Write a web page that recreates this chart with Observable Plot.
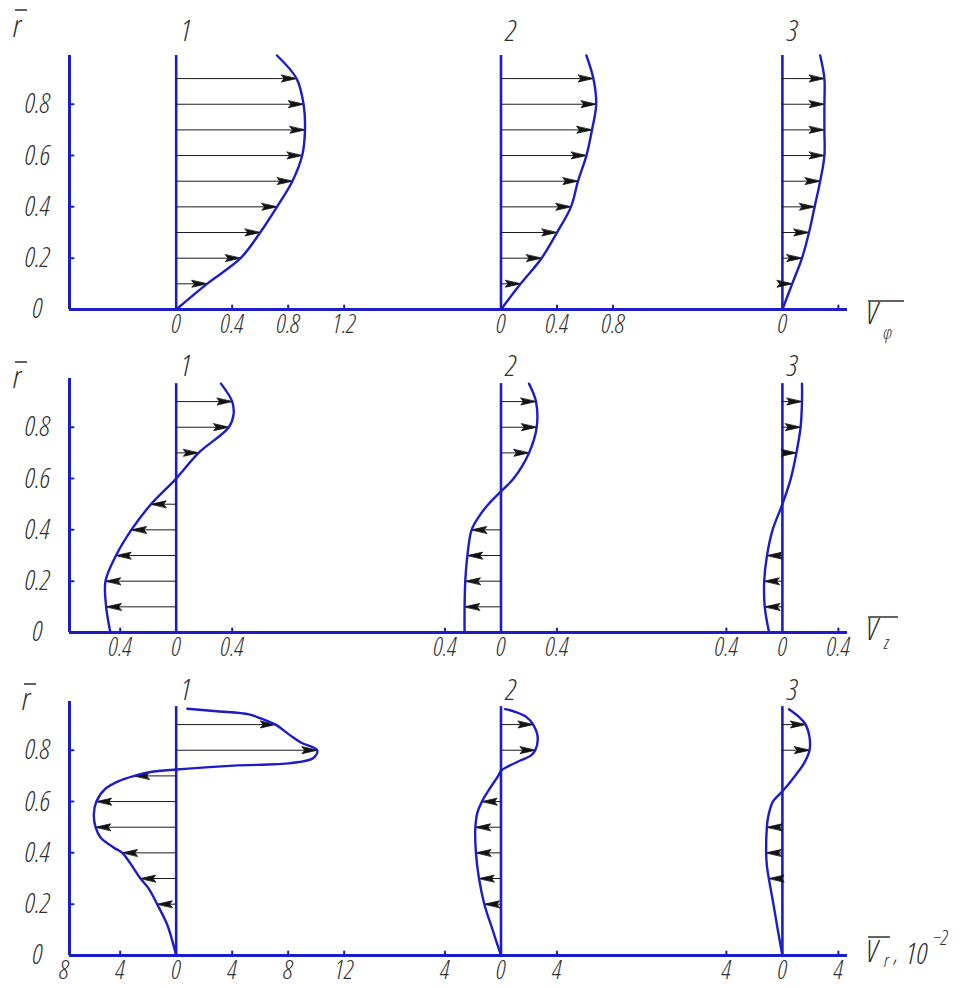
<!DOCTYPE html>
<html>
<head>
<meta charset="utf-8">
<script src="https://cdn.jsdelivr.net/npm/d3@7"></script>
<script src="https://cdn.jsdelivr.net/npm/@observablehq/plot@0.6"></script>
<style>
  html, body { margin: 0; padding: 0; background: #fff; overflow: hidden; }
  #chart { position: relative; width: 960px; height: 988px; }
  #chart > svg { display: block; }
  #titles { position: absolute; left: 0; top: 0; pointer-events: none; }
</style>
</head>
<body>
<div id="chart"></div>
<script>
// ---------- data ----------
// dimensionless radius ticks
const rTickValues = [0, 0.2, 0.4, 0.6, 0.8];
const rTickText = ["0", "0.2", "0.4", "0.6", "0.8"];
const profileNames = ["1", "2", "3"];

// circumferential velocity V_phi, sections 1..3
const phiR = [0, 0.1, 0.2, 0.3, 0.4, 0.5, 0.6, 0.7, 0.8, 0.9, 0.99];
const phi1 = [0, 0.22, 0.46, 0.60, 0.72, 0.83, 0.90, 0.92, 0.91, 0.86, 0.72];
const phi2 = [0, 0.14, 0.29, 0.40, 0.50, 0.55, 0.61, 0.65, 0.68, 0.66, 0.61];
const phi3 = [0, 0.07, 0.14, 0.19, 0.23, 0.27, 0.30, 0.30, 0.30, 0.30, 0.27];
const phiArrowR = [
  [0.1, 0.2, 0.3, 0.4, 0.5, 0.6, 0.7, 0.8, 0.9],
  [0.1, 0.2, 0.3, 0.4, 0.5, 0.6, 0.7, 0.8, 0.9],
  [0.1, 0.2, 0.3, 0.4, 0.5, 0.6, 0.7, 0.8, 0.9]
];
const phiTicks = [[0, 0.4, 0.8, 1.2], [0, 0.4, 0.8], [0, 0.4]];
const phiTickText = [["0", "0.4", "0.8", "1.2"], ["0", "0.4", "0.8"], ["0", ""]];

// axial velocity V_z
const zR1 = [0, 0.1, 0.2, 0.3, 0.4, 0.5, 0.6, 0.7, 0.8, 0.85, 0.9, 0.97];
const z1 = [-0.47, -0.50, -0.505, -0.43, -0.32, -0.18, 0, 0.16, 0.376, 0.41, 0.40, 0.32];
const zR2 = [0, 0.1, 0.2, 0.3, 0.4, 0.45, 0.5, 0.55, 0.6, 0.7, 0.8, 0.9, 0.97];
const z2 = [-0.26, -0.26, -0.255, -0.24, -0.21, -0.16, -0.09, 0, 0.09, 0.20, 0.255, 0.25, 0.20];
const zR3 = [0, 0.1, 0.2, 0.3, 0.4, 0.5, 0.6, 0.7, 0.8, 0.9, 0.97];
const z3 = [-0.095, -0.126, -0.13, -0.11, -0.07, 0, 0.06, 0.10, 0.13, 0.14, 0.14];
const zArrowR = [
  [0.1, 0.2, 0.3, 0.4, 0.5, 0.7, 0.8, 0.9],
  [0.1, 0.2, 0.3, 0.4, 0.7, 0.8, 0.9],
  [0.1, 0.2, 0.3, 0.7, 0.8, 0.9]
];
const zTicks = [[-0.4, 0, 0.4], [-0.4, 0, 0.4], [-0.4, 0, 0.4]];
const zTickText = [["0.4", "0", "0.4"], ["0.4", "0", "0.4"], ["0.4", "0", "0.4"]];

// radial velocity V_r, in units of 10^-2
const vrR1 = [0, 0.06, 0.12, 0.2, 0.26, 0.3, 0.4, 0.42, 0.46, 0.5, 0.55, 0.6, 0.65, 0.68, 0.7, 0.715, 0.725, 0.74, 0.75, 0.77, 0.8, 0.83, 0.86, 0.9, 0.925, 0.94, 0.952, 0.962];
const vr1 = [0, -0.29, -0.64, -1.36, -1.95, -2.55, -3.85, -4.45, -5.4, -5.76, -5.88, -5.7, -5.05, -4.1, -3.0, -1.83, 0, 4.1, 8.2, 9.8, 10.07, 8.9, 8.1, 7.1, 6.0, 5.2, 2.9, 0.8];
const vrR2 = [0, 0.1, 0.2, 0.3, 0.4, 0.5, 0.56, 0.6, 0.65, 0.7, 0.72, 0.735, 0.76, 0.78, 0.8, 0.85, 0.9, 0.93, 0.95, 0.96];
const vr2 = [0, -0.6, -1.19, -1.57, -1.79, -1.83, -1.67, -1.36, -0.81, -0.2, 0, 0.43, 1.38, 2.15, 2.45, 2.62, 2.3, 1.8, 1.0, 0.3];
const vrR3 = [0, 0.1, 0.2, 0.3, 0.35, 0.4, 0.5, 0.54, 0.6, 0.62, 0.64, 0.7, 0.75, 0.8, 0.85, 0.9, 0.93, 0.96];
const vr3 = [0, -0.33, -0.64, -0.97, -1.11, -1.16, -1.11, -1.02, -0.68, -0.36, 0, 0.9, 1.55, 1.94, 1.94, 1.66, 1.18, 0.47];
const vrArrowR = [
  [0.2, 0.3, 0.4, 0.5, 0.6, 0.7, 0.8, 0.9],
  [0.2, 0.3, 0.4, 0.5, 0.6, 0.8, 0.9],
  [0.3, 0.4, 0.5, 0.8, 0.9]
];
const vrTicks = [[-8, -4, 0, 4, 8, 12], [-4, 0, 4], [-4, 0, 4]];
const vrTickText = [["8", "4", "0", "4", "8", "12"], ["4", "0", "4"], ["4", "0", "4"]];

// ---------- layout & style ----------
const blue = "#1c1cc8";
const ink = "#303030";
const font = "'Open Sans', 'Liberation Sans Narrow', 'DejaVu Sans Condensed', sans-serif";
const stretch = "condensed";
const profileGap = [0, 2.32, 4.33];   // zero line of each section, in velocity units
const xExtent = [-0.762, 4.795];      // horizontal extent of a panel, in velocity units

// short stroke for axis ticks, dart for the velocity arrows
const tickShape = {draw(ctx, l) { ctx.moveTo(0, 0); ctx.lineTo(0, -l); }};
const dartShape = {draw(ctx, l, r) {
  ctx.moveTo(0, -l); ctx.lineTo(r, -0.05 * l); ctx.lineTo(0, -0.22 * l); ctx.lineTo(-r, -0.05 * l); ctx.closePath();
}};

const panels = [
  {profiles: [[phiR, phi1], [phiR, phi2], [phiR, phi3]], arrows: phiArrowR, ticks: phiTicks, tickText: phiTickText,
   unit: 1, height: 340, marginTop: 55, marginBottom: 31, lineTop: 0.99, labelDy: -24},
  {profiles: [[zR1, z1], [zR2, z2], [zR3, z3]], arrows: zArrowR, ticks: zTicks, tickText: zTickText,
   unit: 1, height: 323, marginTop: 38, marginBottom: 31, lineTop: 0.97, labelDy: -17},
  {profiles: [[vrR1, vr1], [vrR2, vr2], [vrR3, vr3]], arrows: vrArrowR, ticks: vrTicks, tickText: vrTickText,
   unit: 10, height: 325, marginTop: 38, marginBottom: 33, lineTop: 0.97, labelDy: -16}
];

const textStyle = {fontFamily: font, fontStyle: "italic", fontWeight: 300, fill: ink};

function drawPanel(p) {
  const offs = profileGap.map(g => g * p.unit);
  const domain = xExtent.map(e => e * p.unit);
  const pts = p.profiles.flatMap(([rs, vs], i) => rs.map((r, j) => ({i, r, v: vs[j], x: offs[i] + vs[j]})));
  const arrows = pts.filter(d => p.arrows[d.i].includes(d.r) && d.v !== 0);
  const ticks = p.ticks.flatMap((vals, i) => vals.map((v, j) => ({v, x: offs[i] + v, label: p.tickText[i][j]})));
  return Plot.plot({
    width: 960, height: p.height,
    marginLeft: 69, marginRight: 113, marginTop: p.marginTop, marginBottom: p.marginBottom,
    x: {domain, axis: null},
    y: {domain: [0, 0.99], axis: null},
    style: {fontFamily: font, fontStyle: "italic", fontStretch: stretch, color: ink, background: "white", overflow: "visible"},
    marks: [
      Plot.ruleY([0], {stroke: blue, strokeWidth: 3}),
      Plot.ruleX([domain[0]], {stroke: blue, strokeWidth: 3}),
      Plot.ruleX(offs, {y1: 0, y2: p.lineTop, stroke: blue, strokeWidth: 2.6}),
      Plot.vector(rTickValues.filter(t => t > 0), {x: domain[0], y: d => d, length: 4, rotate: 90, anchor: "start",
        shape: tickShape, stroke: blue, strokeWidth: 2}),
      Plot.vector(ticks.filter(t => t.v !== 0 && t.x >= domain[0]), {x: "x", y: 0, length: 4, rotate: 0, anchor: "start",
        shape: tickShape, stroke: blue, strokeWidth: 2}),
      Plot.ruleY(arrows, {y: "r", x1: d => offs[d.i], x2: "x", stroke: "#1a1a1a", strokeWidth: 1}),
      Plot.vector(arrows, {x: "x", y: "r", length: 16, rotate: d => d.v > 0 ? 90 : -90, anchor: "end",
        shape: dartShape, r: 3.4, fill: "#111", stroke: "#111", strokeWidth: 0.8}),
      Plot.line(pts, {x: "x", y: "r", z: "i", curve: "catmull-rom", stroke: blue, strokeWidth: 2.4}),
      Plot.text(ticks, {x: "x", y: 0, text: "label", dy: 15, fontSize: 26, ...textStyle}),
      Plot.text(rTickValues, {x: domain[0], y: d => d, text: (d, k) => rTickText[k], dx: -32, fontSize: 28, ...textStyle}),
      Plot.text(profileNames, {x: (d, k) => offs[k], y: p.lineTop, text: d => d, dx: 10, dy: p.labelDy, fontSize: 30, ...textStyle})
    ]
  });
}

const chart = document.getElementById("chart");
panels.forEach(p => chart.appendChild(drawPanel(p)));

// ---------- axis titles: r̄ and V̄ with subscripts ----------
const titles = d3.create("svg").attr("id", "titles").attr("width", 960).attr("height", 988)
  .style("font-family", font).style("font-style", "italic").style("font-weight", 300)
  .style("font-stretch", stretch).attr("fill", ink);

function put(txt, x, y, size) {
  titles.append("text").attr("x", x).attr("y", y).attr("font-size", size).text(txt);
}
function bar(x1, x2, y) {
  titles.append("line").attr("x1", x1).attr("x2", x2).attr("y1", y).attr("y2", y)
    .attr("stroke", ink).attr("stroke-width", 1.5);
}

// radius
put("r", 13, 37, 32); bar(15, 27, 10);
put("r", 13, 388, 32); bar(15, 27, 362);
put("r", 22, 710, 32); bar(24, 36, 684);

// velocity components
put("V", 866, 324, 32); put("φ", 883, 339, 19); bar(868, 904, 301);
put("V", 866, 640, 32); put("z", 884, 649, 19); bar(868, 898, 617);
put("V", 866, 962, 32); put("r", 884, 967, 19); put(",", 894, 962, 24);
put("10", 906, 964, 30); put("−2", 933, 945, 20); bar(868, 890, 937);

chart.appendChild(titles.node());
</script>
</body>
</html>
